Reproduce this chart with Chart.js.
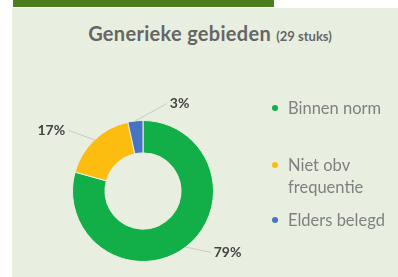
<!DOCTYPE html>
<html>
<head>
<meta charset="utf-8">
<script src="https://cdn.jsdelivr.net/npm/chart.js@4.4.1/dist/chart.umd.min.js"></script>
<style>
  html, body { margin: 0; padding: 0; background: #fff; }
  #wrap { position: relative; width: 398px; height: 277px; overflow: hidden; font-family: Lato, "Open Sans", sans-serif; }
  #bar { position: absolute; left: 13px; top: 0; width: 261px; height: 7px; background: #4b7e1f; }
  #panel { position: absolute; left: 12px; top: 8px; right: 0; bottom: 0; background: #e9efe0; }
  #title { position: absolute; left: 0; width: 420px; top: 21px; text-align: center; color: #666; font-weight: bold; font-size: 20px; letter-spacing: 0.3px; }
  #title small { font-size: 13px; letter-spacing: 0; }
  #chart { position: absolute; left: 0; top: 0; }
  #legend { position: absolute; left: 271px; top: 97px; color: #808080; font-size: 16.5px; line-height: 22px; }
  .item { position: relative; padding-left: 17px; }
  .item .dot { position: absolute; left: 1px; top: 8px; width: 6px; height: 6px; border-radius: 50%; }
</style>
</head>
<body>
<div id="wrap">
  <div id="bar"></div>
  <div id="panel"></div>
  <div id="title">Generieke gebieden <small>(29 stuks)</small></div>
  <canvas id="chart" width="398" height="277"></canvas>
  <div id="legend"></div>
</div>
<script>
const categories = ["Binnen norm", ["Niet obv", "frequentie"], "Elders belegd"];
const counts = [23, 5, 1];
const percentLabels = ["79%", "17%", "3%"];
const colors = ["#12ae47", "#fcbd10", "#4673c2"];
// label anchor relative to centre, in units of outer radius
const labelAnchors = [[1.2, 0.87], [-1.3, -0.86], [0.52, -1.24]];
const legendGaps = [0, 35, 11];

function renderLegend() {
  const legend = document.getElementById("legend");
  legend.innerHTML = categories
    .map((cat, i) => {
      const text = Array.isArray(cat) ? cat.join("<br>") : cat;
      return `<div class="item" style="margin-top:${legendGaps[i]}px">
        <span class="dot" style="background:${colors[i]}"></span>${text}</div>`;
    })
    .join("");
}

const sliceLabels = {
  id: "sliceLabels",
  afterDatasetsDraw(chart) {
    const ctx = chart.ctx;
    const meta = chart.getDatasetMeta(0);
    ctx.save();
    ctx.font = "bold 14px Lato, sans-serif";
    ctx.fillStyle = "#444";
    ctx.textBaseline = "middle";
    meta.data.forEach((arc, i) => {
      const { x, y, startAngle, endAngle, outerRadius } = arc.getProps(
        ["x", "y", "startAngle", "endAngle", "outerRadius"], true);
      const mid = (startAngle + endAngle) / 2;
      const px = x + Math.cos(mid) * outerRadius;
      const py = y + Math.sin(mid) * outerRadius;
      const [ax, ay] = labelAnchors[i];
      const lx = x + ax * outerRadius;
      const ly = y + ay * outerRadius;
      const w = ctx.measureText(percentLabels[i]).width;
      const edgeX = lx < px ? lx + w / 2 + 3 : lx - w / 2 - 3;
      ctx.strokeStyle = "#c8cbc4";
      ctx.lineWidth = 1;
      ctx.beginPath();
      ctx.moveTo(px, py);
      ctx.lineTo(edgeX, ly);
      ctx.stroke();
      ctx.textAlign = "center";
      ctx.fillText(percentLabels[i], lx, ly);
    });
    ctx.restore();
  },
};

new Chart(document.getElementById("chart"), {
  type: "doughnut",
  data: {
    labels: categories.map((c) => (Array.isArray(c) ? c.join(" ") : c)),
    datasets: [
      {
        data: counts,
        backgroundColor: colors,
        borderColor: "#e9efe0",
        borderWidth: 1,
      },
    ],
  },
  options: {
    responsive: false,
    animation: false,
    cutout: "54%",
    layout: { padding: { left: 72, right: 184, top: 120, bottom: 15 } },
    plugins: { legend: { display: false }, tooltip: { enabled: false } },
  },
  plugins: [sliceLabels],
});

renderLegend();
</script>
</body>
</html>
